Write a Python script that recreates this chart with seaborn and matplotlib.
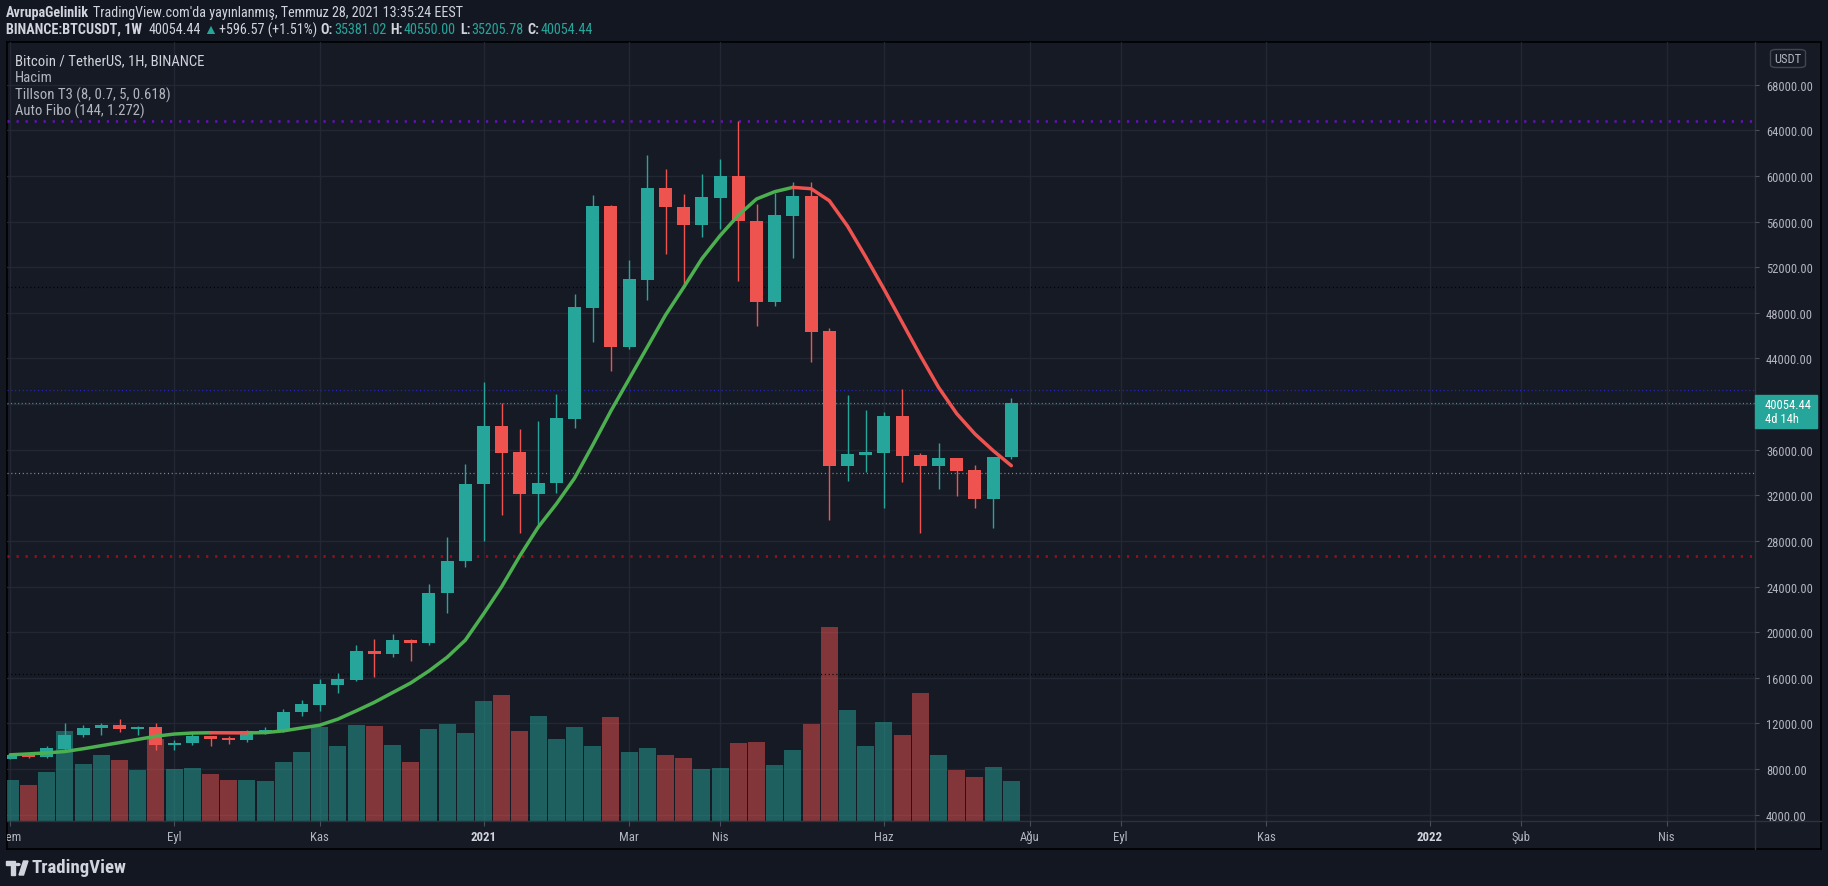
import numpy as np
import pandas as pd
import matplotlib
matplotlib.use("Agg")
import matplotlib.pyplot as plt
import seaborn as sns
from matplotlib.patches import Rectangle, FancyBboxPatch, Circle, Polygon
from matplotlib.lines import Line2D

# ---------------- data (BINANCE:BTCUSDT, weekly bars) ----------------
first_week = "2020-07-06"
opens = [8890, 9260, 9090, 9800, 10950, 11560, 11870, 11520, 11690, 10110,
         10250, 10900, 10700, 10550, 11300, 11400, 12960, 13650, 15400, 15810,
         18360, 18090, 19320, 19090, 23400, 26200, 32950, 38080, 35760, 32120,
         33040, 38730, 48460, 57360, 45000, 50920, 58940, 57320, 55700, 58100,
         59990, 56090, 48950, 56530, 58240, 46400, 34570, 35530, 35710, 38960,
         35530, 34570, 35270, 34220, 31670, 35381.02]
highs = [9384, 9280, 10030, 12040, 11870, 12040, 12390, 11780, 12040, 10550,
         11170, 10920, 10900, 11430, 11690, 13270, 14060, 15900, 16430, 18880,
         19410, 19850, 19400, 24230, 28350, 34750, 41940, 40100, 37820, 38520,
         40880, 49650, 58330, 57450, 52630, 61840, 60610, 58410, 60170, 61490,
         64820, 57540, 58500, 59470, 59470, 46670, 40800, 39480, 39310, 41320,
         35710, 36580, 35300, 34660, 35400, 40550.00]
lows = [8850, 8950, 9000, 9610, 10840, 10990, 11250, 10990, 9670, 9670,
        10110, 10030, 10200, 10380, 11080, 11250, 12660, 13100, 14670, 15720,
        16080, 17830, 17500, 18900, 21680, 25740, 28000, 30280, 28700, 29140,
        32200, 37900, 45440, 42900, 44830, 49130, 53160, 50350, 54650, 55350,
        50790, 46840, 48590, 52800, 43680, 29840, 33250, 34040, 30890, 33170,
        28700, 32560, 31940, 30890, 29140, 35205.78]
closes = [9250, 9090, 9850, 10990, 11600, 11870, 11520, 11690, 10110, 10290,
          10900, 10640, 10550, 11340, 11430, 13010, 13710, 15460, 15900, 18360,
          18090, 19320, 19090, 23440, 26240, 32990, 38080, 35710, 32120, 33080,
          38780, 48510, 57360, 45000, 50960, 58940, 57270, 55700, 58150, 59990,
          56050, 48950, 56570, 58240, 46310, 34570, 35620, 35800, 38960, 35440,
          34570, 35270, 34130, 31670, 35381.02, 40054.44]
volume_k = [205, 180, 245, 450, 285, 330, 305, 255, 410, 260,
            265, 235, 205, 205, 200, 295, 345, 470, 375, 480,
            475, 380, 295, 460, 485, 440, 600, 630, 450, 525,
            410, 470, 375, 520, 345, 365, 330, 315, 260, 265,
            390, 395, 280, 355, 485, 970, 555, 375, 495, 430,
            640, 330, 255, 220, 270, 200]
t3_values = [9250, 9330, 9420, 9540, 9780, 10050, 10320, 10600, 10880, 11070,
             11160, 11185, 11178, 11172, 11195, 11350, 11600, 11850, 12380, 13100,
             13850, 14700, 15550, 16600, 17800, 19300, 21600, 24000, 26700, 29200,
             31240, 33500, 36400, 39400, 42200, 45000, 47800, 50240, 52750, 54770,
             56550, 57980, 58620, 59000, 58880, 57830, 55600, 52900, 50090, 47170,
             44250, 41470, 39160, 37380, 35920, 34600]
fib_levels = [64791, 50237, 41233, 33960, 26706, 16307]
last_price = 40054.44
countdown = "4d 14h"
price_ticks = [4000, 8000, 12000, 16000, 20000, 24000, 28000, 32000, 36000,
               40000, 44000, 48000, 52000, 56000, 60000, 64000, 68000]
tick_dates = ["2020-07-06", "2020-09-07", "2020-11-02", "2021-01-04", "2021-03-01",
              "2021-04-05", "2021-06-07", "2021-08-02", "2021-09-06", "2021-11-01",
              "2022-01-03", "2022-02-07", "2022-04-04"]
tick_labels = ["Tem", "Eyl", "Kas", "2021", "Mar", "Nis", "Haz", "Ağu", "Eyl", "Kas",
               "2022", "Şub", "Nis"]
header_author = "AvrupaGelinlik"
header_rest = "TradingView.com'da yayınlanmış, Temmuz 28, 2021 13:35:24 EEST"
symbol_title = "BINANCE:BTCUSDT, 1W"
change_text = "+596.57 (+1.51%)"
legend_lines = ["Bitcoin / TetherUS, 1H, BINANCE", "Hacim",
                "Tillson T3 (8, 0.7, 5, 0.618)", "Auto Fibo (144, 1.272)"]

# ---------------- styles ----------------
OUTER = "#131722"
INNER = "#161a25"
GRID = "#232733"
AXLINE = "#2e323e"
TEXT = "#d1d4dc"
TICKTXT = "#b2b5be"
TEAL = "#26a69a"
RED = "#ef5350"
T3_UP = "#4caf50"
T3_DOWN = "#ef5350"
fib_styles = [("#5e14ad", 2.0, (1.6, 4.9)), ("#000000", 0.9, (0.75, 2.0)),
              ("#2828c8", 0.9, (0.75, 2.0)), ("#8d909a", 0.9, (0.75, 2.0)),
              ("#9a0f14", 2.0, (1.6, 4.9)), ("#000000", 0.9, (0.75, 2.0))]

sns.set_theme(style="dark", rc={"axes.facecolor": INNER, "figure.facecolor": OUTER,
                                "lines.scale_dashes": False})
FONT = ["Roboto Condensed", "Liberation Sans Narrow", "Liberation Sans", "DejaVu Sans"]
plt.rcParams["font.family"] = FONT
plt.rcParams["lines.scale_dashes"] = False

W, H = 1828, 887
fig = plt.figure(figsize=(W / 100, H / 100), dpi=100, facecolor=OUTER)


def fx(px):
    return px / W


def fy(py):
    return 1 - py / H


L, R, T, B = 6.7, 1755.0, 42.7, 822.3     # plot pane (px)
PR, PB = 1821.0, 850.0                    # outer chart border (px)

panel = fig.add_axes([fx(L), fy(PB), (PR - L) / W, (PB - T) / H])
panel.set_facecolor(INNER)
panel.set_xticks([])
panel.set_yticks([])
for s in panel.spines.values():
    s.set_color("#000000")
    s.set_linewidth(1.2)
panel.set_zorder(0)

rect = [fx(L), fy(B), (R - L) / W, (B - T) / H]
axv = fig.add_axes(rect)
axv.set_zorder(1)
axv.patch.set_alpha(0)
ax = fig.add_axes(rect, sharex=axv)
ax.set_zorder(2)
ax.patch.set_alpha(0)

n = len(opens)
x = np.arange(n)
o = np.array(opens, float)
h = np.array(highs, float)
lo = np.array(lows, float)
c = np.array(closes, float)
up = c >= o
ccol = np.where(up, TEAL, RED)

YMIN, YMAX = 3421, 71770
base = pd.Timestamp(first_week)
tick_pos = [(pd.Timestamp(d) - base).days / 7 for d in tick_dates]

# grid (lowest layer)
for p in price_ticks:
    f = (p - YMIN) / (YMAX - YMIN)
    axv.plot([0, 1], [f, f], transform=axv.transAxes, color=GRID, lw=1, zorder=0)
for tp in tick_pos:
    axv.axvline(tp, color=GRID, lw=1, zorder=0)

# volume
axv.bar(x, volume_k, width=0.93, color=ccol, alpha=0.5, linewidth=0, zorder=1)
axv.set_ylim(0, (B - T) * 5)
axv.set_yticks([])
axv.tick_params(bottom=False, labelbottom=False, left=False, labelleft=False)
for s in axv.spines.values():
    s.set_visible(False)

# fib lines + last price line
for lvl, (col, lw, dash) in zip(fib_levels, fib_styles):
    ax.axhline(lvl, color=col, lw=lw, linestyle=(0, dash), zorder=2)
ax.axhline(last_price, color=TEAL, lw=0.9, linestyle=(0, (0.75, 1.8)), zorder=2)

# candles
ax.vlines(x, lo, h, colors=ccol, lw=1.0, zorder=3)
ax.bar(x, np.maximum(np.abs(c - o), 70), bottom=np.minimum(o, c), width=0.71,
       color=ccol, linewidth=0, zorder=4)

# Tillson T3 line coloured by direction
t3 = np.array(t3_values, float)
rows = []
seg, cur = 0, None
for j in range(n - 1):
    d = "up" if t3[j + 1] >= t3[j] else "down"
    if d != cur:
        seg += 1
        cur = d
        rows.append((seg, d, x[j], t3[j]))
    rows.append((seg, d, x[j + 1], t3[j + 1]))
df_t3 = pd.DataFrame(rows, columns=["seg", "dir", "x", "t3"])
sns.lineplot(data=df_t3, x="x", y="t3", hue="dir", units="seg", estimator=None,
             sort=False, palette={"up": T3_UP, "down": T3_DOWN}, lw=2.5,
             legend=False, ax=ax, zorder=6, solid_capstyle="round",
             solid_joinstyle="round")

ax.set_xlim(-0.198, 95.86)
ax.set_ylim(YMIN, YMAX)
ax.set_xlabel("")
ax.set_ylabel("")
for s in ax.spines.values():
    s.set_visible(False)
ax.grid(False)
axv.grid(False)

ax.yaxis.tick_right()
ax.set_yticks(price_ticks)
ax.set_yticklabels(["" if p == 40000 else f"{p:.2f}" for p in price_ticks])
ax.tick_params(axis="y", which="both", right=True, left=False, direction="out",
               length=3, width=0.8, color="#4a4e5a", pad=5, labelsize=9,
               labelcolor=TICKTXT)
ax.set_xticks(tick_pos)
ax.set_xticklabels(tick_labels)
ax.tick_params(axis="x", bottom=True, direction="out", length=3.5, width=0.8,
               color="#4a4e5a", pad=3, labelsize=9.2, labelcolor=TICKTXT)
for lab, txt in zip(ax.get_xticklabels(), tick_labels):
    if txt.startswith("20"):
        lab.set_fontweight("bold")
        lab.set_color(TEXT)
    lab.set_clip_on(True)
    lab.set_clip_box(panel.bbox)

# pane separators
fig.add_artist(Line2D([fx(L), fx(PR)], [fy(B), fy(B)], color=AXLINE, lw=1))
fig.add_artist(Line2D([fx(R), fx(R)], [fy(T), fy(PB)], color=AXLINE, lw=1))

# last price label
fig.add_artist(Rectangle((fx(R), fy(429)), (1817 - R) / W, 33 / H, color=TEAL,
                         transform=fig.transFigure, zorder=10))
fig.text(fx(1765), fy(405.5), f"{last_price:.2f}", color="white", fontsize=9,
         va="center", ha="left", zorder=11)
fig.text(fx(1765), fy(419.5), countdown, color="white", fontsize=9,
         va="center", ha="left", zorder=11)

# USDT box
fig.add_artist(FancyBboxPatch((fx(1770.5), fy(68.5)), 35 / W, 18 / H,
                              boxstyle="round,pad=0,rounding_size=0.003",
                              transform=fig.transFigure, facecolor=INNER,
                              edgecolor="#434651", lw=1, zorder=10))
fig.text(fx(1788), fy(59.5), "USDT", color=TICKTXT, fontsize=9, ha="center",
         va="center", zorder=11)

# legend texts inside pane
for k, line in enumerate(legend_lines):
    fig.text(fx(15), fy([61, 77.7, 95, 111.7][k]), line,
             color=TEXT if k == 0 else TICKTXT, fontsize=10.6, va="center", ha="left")

# header (chained pieces)
renderer = fig.canvas.get_renderer()


def chain(parts, x0, y):
    xx = x0
    for txt, col, wt, gap in parts:
        t = fig.text(fx(xx), fy(y), txt, color=col, fontsize=10.2, fontweight=wt,
                     va="center", ha="left")
        bb = t.get_window_extent(renderer)
        xx += bb.width + gap


chain([(header_author, TEXT, "bold", 4), (header_rest, TEXT, "normal", 0)], 6.3, 13.3)
chain([(symbol_title, TEXT, "bold", 6),
       (f"{last_price:.2f}", TEXT, "normal", 2),
       ("▲", TEAL, "normal", 2),
       (change_text, TEXT, "normal", 4),
       ("O:", TEXT, "bold", 1), (f"{opens[-1]:.2f}", TEAL, "normal", 4),
       ("H:", TEXT, "bold", 1), (f"{highs[-1]:.2f}", TEAL, "normal", 4),
       ("L:", TEXT, "bold", 1), (f"{lows[-1]:.2f}", TEAL, "normal", 4),
       ("C:", TEXT, "bold", 1), (f"{closes[-1]:.2f}", TEAL, "normal", 0)], 6.3, 30)

# TradingView logo (bottom left)
LOGO = "#d1d4dc"
fig.add_artist(Rectangle((fx(6), fy(866)), 9 / W, 4 / H, color=LOGO,
                         transform=fig.transFigure))
fig.add_artist(Rectangle((fx(10.5), fy(876)), 4.5 / W, 12 / H, color=LOGO,
                         transform=fig.transFigure))
fig.add_artist(Circle((fx(18), fy(865.5)), 2.0 / W, color=LOGO,
                      transform=fig.transFigure))
fig.add_artist(Polygon([(fx(19), fy(876)), (fx(23.5), fy(876)), (fx(28), fy(862)),
                        (fx(23.5), fy(862))], closed=True, color=LOGO,
                       transform=fig.transFigure))
fig.text(fx(31.5), fy(868.5), "TradingView", color=LOGO, fontsize=13.5,
         fontweight="bold", va="center", ha="left")

fig.savefig("out.png", dpi=100, facecolor=OUTER)
